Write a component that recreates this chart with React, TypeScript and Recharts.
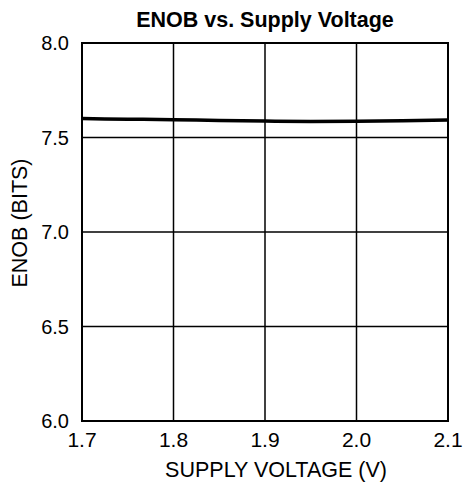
import { LineChart, Line, XAxis, YAxis, CartesianGrid, ReferenceArea, Label } from 'recharts';

const supplyVoltage = [1.7, 1.75, 1.8, 1.85, 1.9, 1.95, 2.0, 2.05, 2.1];
const enobBits = [7.6, 7.597, 7.594, 7.59, 7.587, 7.585, 7.586, 7.589, 7.593];
const xTicks = [1.7, 1.8, 1.9, 2.0, 2.1];
const yTicks = [6.0, 6.5, 7.0, 7.5, 8.0];

const FONT = 'Liberation Sans, Arial, Helvetica, sans-serif';

const data = supplyVoltage.map((v, i) => ({ v, enob: enobBits[i] }));

/**
 * ENOB vs. Supply Voltage, datasheet style:
 * black frame, solid grid, one heavy trace.
 */
export default function App() {
  return (
    <div style={{ position: 'absolute', left: 0, top: 0, background: '#fff' }}>
      <LineChart width={465} height={483} data={data} margin={{ top: 43, right: 17, bottom: 0, left: 0 }}>
        <CartesianGrid stroke="#000" strokeWidth={1.5} />
        <XAxis
          dataKey="v"
          type="number"
          domain={[1.7, 2.1]}
          ticks={xTicks}
          tickFormatter={(t: number) => t.toFixed(1)}
          height={62}
          axisLine={false}
          tickLine={false}
          tickSize={0}
          tickMargin={11}
          tick={{ fill: '#000', fontSize: 21, fontFamily: FONT }}
          interval={0}
        >
          <Label
            content={() => (
              <text x={276} y={477} textAnchor="middle" fontSize={21.5} fontFamily={FONT} fill="#000">
                SUPPLY VOLTAGE (V)
              </text>
            )}
          />
          <Label
            content={() => (
              <text x={265} y={27} textAnchor="middle" fontSize={21.5} fontWeight="bold" fontFamily={FONT} fill="#000">
                ENOB vs. Supply Voltage
              </text>
            )}
          />
        </XAxis>
        <YAxis
          type="number"
          domain={[6, 8]}
          ticks={yTicks}
          tickFormatter={(t: number) => t.toFixed(1)}
          width={82}
          axisLine={false}
          tickLine={false}
          tickSize={0}
          tickMargin={13}
          tick={{ fill: '#000', fontSize: 20, fontFamily: FONT }}
          interval={0}
        >
          <Label
            content={() => (
              <text
                x={20}
                y={223}
                transform="rotate(-90 20 223)"
                textAnchor="middle"
                dominantBaseline="central"
                fontSize={21.5}
                fontFamily={FONT}
                fill="#000"
              >
                ENOB (BITS)
              </text>
            )}
          />
        </YAxis>
        <ReferenceArea x1={1.7} x2={2.1} y1={6} y2={8} fill="none" fillOpacity={0} stroke="#000" strokeWidth={2} />
        <Line
          type="monotone"
          dataKey="enob"
          stroke="#000"
          strokeWidth={3.5}
          dot={false}
          isAnimationActive={false}
        />
      </LineChart>
    </div>
  );
}
